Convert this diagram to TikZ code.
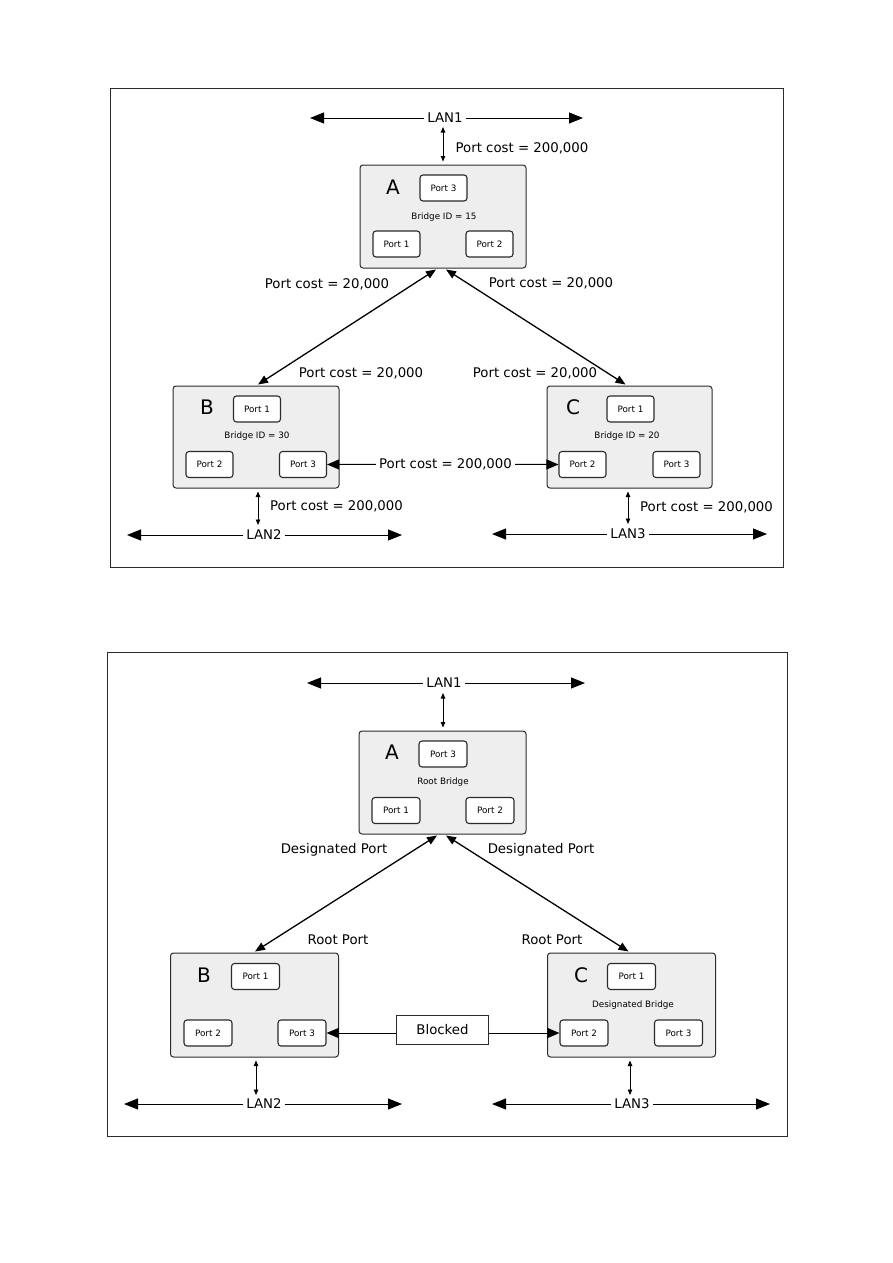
\documentclass[tikz,border=0pt]{standalone}
\usepackage{fontspec}
\setmainfont{DejaVu Sans}
\usetikzlibrary{arrows.meta}
\definecolor{bfill}{HTML}{EEEEEE}
\definecolor{bline}{HTML}{2B2B2B}
\tikzset{
  bridge/.style={draw=bline, fill=bfill, rounded corners=3pt, line width=1pt,
    minimum width=166pt, minimum height=103pt, inner sep=0pt},
  portbox/.style={draw=bline, fill=white, rounded corners=3pt, line width=1.1pt,
    minimum width=47pt, minimum height=26pt, inner sep=0pt,
    font=\fontsize{8.8}{10}\selectfont},
  smalltxt/.style={font=\fontsize{8.8}{10}\selectfont, inner sep=0pt},
  lbl/.style={font=\fontsize{13.3}{15}\selectfont, inner sep=0pt},
  lantxt/.style={font=\fontsize{13.3}{15}\selectfont, inner xsep=3pt, inner ysep=0pt},
  letter/.style={font=\fontsize{20}{22}\selectfont, inner sep=0pt},
  lanarrow/.style={-{Triangle[length=14pt,width=11pt]}, line width=1pt},
  diag/.style={{Triangle[length=10pt,width=8pt]}-{Triangle[length=10pt,width=8pt]}, line width=1.3pt},
  vert/.style={{Triangle[length=5.5pt,width=4.5pt]}-{Triangle[length=5.5pt,width=4.5pt]}, line width=0.8pt},
  side/.style={-{Triangle[length=12pt,width=10pt]}, line width=1pt},
  frame/.style={draw=bline, line width=1pt},
  blk/.style={draw=bline, fill=white, line width=1pt, minimum width=92pt, minimum height=29pt,
    inner sep=0pt, font=\fontsize{13.3}{15}\selectfont},
}
\begin{document}
\begin{tikzpicture}[x=1pt,y=-1pt]
\useasboundingbox (0,0) rectangle (893,1263);

% ================= TOP DIAGRAM =================
\draw[frame] (110,88) rectangle (783,567);

% LAN1
\node[lantxt] (tlan1) at (445,118) {LAN1};
\coordinate (tlan1l) at (310,118);
\coordinate (tlan1r) at (583,118);
\draw[lanarrow] (tlan1) -- (tlan1l);
\draw[lanarrow] (tlan1) -- (tlan1r);

% Bridge A
\node[bridge] (tA) at (443,216.5) {};
\node[letter] (tAl) at (393,187) {A};
\node[portbox] (tAp3) at (443.5,188) {Port 3};
\node[smalltxt] (tAid) at (444,217) {Bridge ID = 15};
\node[portbox] (tAp1) at (396.5,244) {Port 1};
\node[portbox] (tAp2) at (489.5,244) {Port 2};

\coordinate (tv1) at (443,127);
\draw[vert] (tv1) -- ([yshift=3pt]tA.north);
\node[lbl] (tc1) at (522,148) {Port cost = 200,000};

% Bridge B
\node[bridge, minimum height=102pt] (tB) at (256,437) {};
\node[letter] (tBl) at (207,407) {B};
\node[portbox] (tBp1) at (257,409) {Port 1};
\node[smalltxt] (tBid) at (257,436) {Bridge ID = 30};
\node[portbox] (tBp2) at (209.5,464.5) {Port 2};
\node[portbox] (tBp3) at (303,464.5) {Port 3};

% Bridge C
\node[bridge, minimum width=165pt, minimum height=102pt] (tC) at (629.5,437) {};
\node[letter] (tCl) at (573,407) {C};
\node[portbox] (tCp1) at (630.5,409) {Port 1};
\node[smalltxt] (tCid) at (627,436) {Bridge ID = 20};
\node[portbox] (tCp2) at (582.5,464.5) {Port 2};
\node[portbox] (tCp3) at (676.5,464.5) {Port 3};

% A-B, A-C links
\draw[diag] ([xshift=-7pt,yshift=-1pt]tA.south) -- ([xshift=2pt,yshift=1pt]tB.north);
\draw[diag] ([xshift=3pt,yshift=-1pt]tA.south) -- ([xshift=-4pt,yshift=1pt]tC.north);
\node[lbl] (tc2) at (327,284) {Port cost = 20,000};
\node[lbl] (tc3) at (551,283) {Port cost = 20,000};
\node[lbl] (tc4) at (361,373) {Port cost = 20,000};
\node[lbl] (tc5) at (535,373) {Port cost = 20,000};

% B-C link
\node[lbl, inner xsep=3pt] (tc6) at (445.5,464) {Port cost = 200,000};
\draw[side] (tc6) -- (tBp3.east);
\draw[side] (tc6) -- (tCp2.west);

% LAN2
\node[lantxt] (tlan2) at (264,535) {LAN2};
\coordinate (tlan2l) at (127,535);
\coordinate (tlan2r) at (402,535);
\draw[lanarrow] (tlan2) -- (tlan2l);
\draw[lanarrow] (tlan2) -- (tlan2r);
\coordinate (tv2) at (258,525);
\draw[vert] ([xshift=2pt,yshift=-3pt]tB.south) -- (tv2);
\node[lbl] (tc7) at (336.5,506) {Port cost = 200,000};

% LAN3
\node[lantxt] (tlan3) at (628,534) {LAN3};
\coordinate (tlan3l) at (492,534);
\coordinate (tlan3r) at (767,534);
\draw[lanarrow] (tlan3) -- (tlan3l);
\draw[lanarrow] (tlan3) -- (tlan3r);
\coordinate (tv3) at (628,524);
\draw[vert] ([xshift=-1.5pt,yshift=-3pt]tC.south) -- (tv3);
\node[lbl] (tc8) at (706.5,507) {Port cost = 200,000};

% ================= BOTTOM DIAGRAM =================
\draw[frame] (107,652) rectangle (787,1136);

% LAN1
\node[lantxt] (blan1) at (444,683) {LAN1};
\coordinate (blan1l) at (307,683);
\coordinate (blan1r) at (585,683);
\draw[lanarrow] (blan1) -- (blan1l);
\draw[lanarrow] (blan1) -- (blan1r);

% Bridge A
\node[bridge, minimum width=167pt] (bA) at (442.5,782.5) {};
\node[letter] (bAl) at (392,752) {A};
\node[portbox, minimum width=48pt] (bAp3) at (443,754) {Port 3};
\node[smalltxt] (bAid) at (443,782) {Root Bridge};
\node[portbox, minimum width=48pt] (bAp1) at (396,810.5) {Port 1};
\node[portbox, minimum width=48pt] (bAp2) at (490,810.5) {Port 2};

\coordinate (bv1) at (443,693);
\draw[vert] (bv1) -- ([xshift=0.5pt,yshift=3pt]bA.north);

% Bridge B
\node[bridge, minimum width=168pt, minimum height=104pt] (bB) at (254.5,1005) {};
\node[letter] (bBl) at (204,975) {B};
\node[portbox, minimum width=48pt] (bBp1) at (255.5,976.5) {Port 1};
\node[portbox, minimum width=48pt] (bBp2) at (208,1033) {Port 2};
\node[portbox, minimum width=48pt] (bBp3) at (302,1033) {Port 3};

% Bridge C
\node[bridge, minimum width=168pt, minimum height=104pt] (bC) at (631.5,1005) {};
\node[letter] (bCl) at (581,975) {C};
\node[portbox, minimum width=48pt] (bCp1) at (631.5,976.5) {Port 1};
\node[smalltxt] (bCid) at (633,1005) {Designated Bridge};
\node[portbox, minimum width=48pt] (bCp2) at (584,1033) {Port 2};
\node[portbox, minimum width=48pt] (bCp3) at (678.5,1033) {Port 3};

% A-B, A-C links
\draw[diag] ([xshift=-5.5pt,yshift=-1pt]bA.south) -- ([xshift=0.5pt,yshift=1pt]bB.north);
\draw[diag] ([xshift=3.5pt,yshift=-1pt]bA.south) -- ([xshift=-3pt,yshift=1pt]bC.north);
\node[lbl] (bd1) at (334,850) {Designated Port};
\node[lbl] (bd2) at (541,850) {Designated Port};
\node[lbl] (br1) at (338,940) {Root Port};
\node[lbl] (br2) at (552,940) {Root Port};

% Blocked link
\node[blk] (blocked) at (442.5,1030) {Blocked};
\draw[side] (blocked.west |- bBp3.east) -- (bBp3.east);
\draw[side] (blocked.east |- bCp2.west) -- (bCp2.west);

% LAN2
\node[lantxt] (blan2) at (264,1104) {LAN2};
\coordinate (blan2l) at (124,1104);
\coordinate (blan2r) at (402,1104);
\draw[lanarrow] (blan2) -- (blan2l);
\draw[lanarrow] (blan2) -- (blan2r);
\coordinate (bv2) at (256,1095);
\draw[vert] ([xshift=1.5pt,yshift=-3pt]bB.south) -- (bv2);

% LAN3
\node[lantxt] (blan3) at (632,1104) {LAN3};
\coordinate (blan3l) at (492,1104);
\coordinate (blan3r) at (770,1104);
\draw[lanarrow] (blan3) -- (blan3l);
\draw[lanarrow] (blan3) -- (blan3r);
\coordinate (bv3) at (630,1095);
\draw[vert] ([xshift=-1.5pt,yshift=-3pt]bC.south) -- (bv3);

\end{tikzpicture}
\end{document}
